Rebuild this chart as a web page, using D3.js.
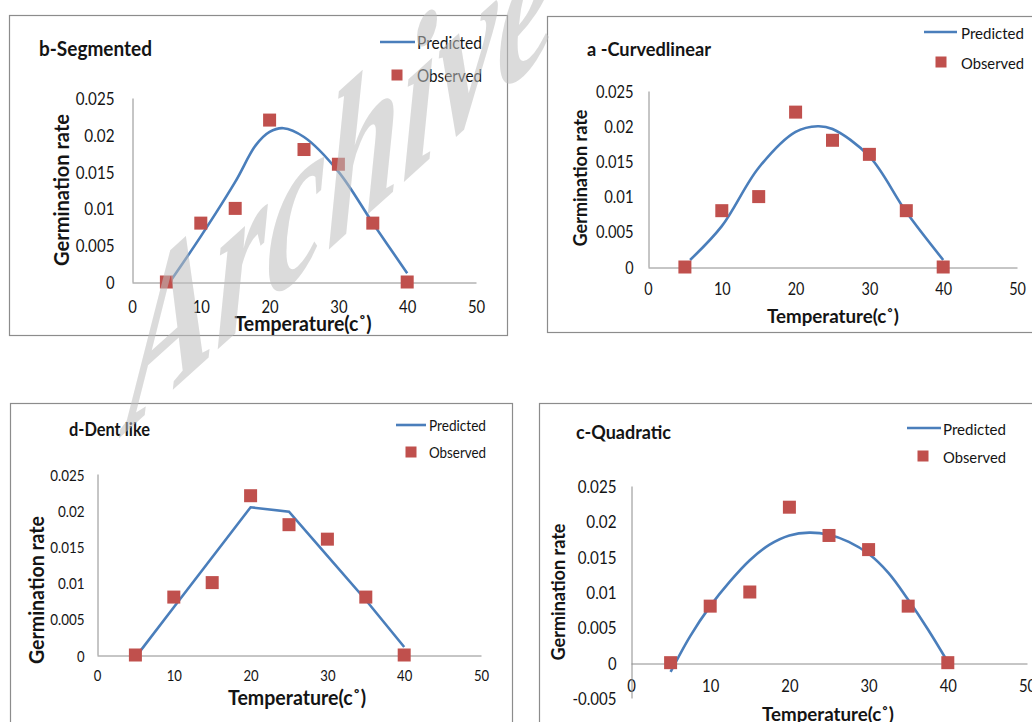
<!DOCTYPE html>
<html>
<head>
<meta charset="utf-8">
<script src="https://cdn.jsdelivr.net/npm/d3@7.9.0/dist/d3.min.js"></script>
<style>
  html, body { margin: 0; padding: 0; background: #fff; }
  svg { display: block; font-family: Lato, "Open Sans", sans-serif; }
</style>
</head>
<body>
<svg id="chart" width="1032" height="722"></svg>
<script>
// observed germination rate, same in every panel
const temps = [5, 10, 15, 20, 25, 30, 35, 40];
const observed = [0, 0.008, 0.010, 0.022, 0.018, 0.016, 0.008, 0];

// predicted curves
const segmentedT = [5.5, 10, 15, 18, 20, 22, 25, 30, 35, 40];
const segmentedRate = [0, 0.0062, 0.0136, 0.0186, 0.0204, 0.0209, 0.0197, 0.0150, 0.0080, 0.0012];

const curvedT = [5.7, 10, 15, 20, 23, 25, 30, 35, 40];
const curvedRate = [0.001, 0.0058, 0.0141, 0.0192, 0.0200, 0.0196, 0.0157, 0.0078, 0.001];

const dentT = [5.6, 10, 20, 25, 30, 35, 40];
const dentRate = [0.0005, 0.0066, 0.0204, 0.0198, 0.0137, 0.0076, 0.0011];

const quadT = [5, 7.5, 10, 12.5, 15, 17.5, 20, 22.5, 25, 27.5, 30, 32.5, 35, 37.5, 40];
const quadRate = [-0.0013, 0.0038, 0.0080, 0.0115, 0.0145, 0.0167, 0.0180, 0.0184, 0.0181, 0.0171, 0.0154, 0.0127, 0.0089, 0.0047, 0.0001];

const xTicks = [0, 10, 20, 30, 40, 50];
const yTicks = [0, 0.005, 0.01, 0.015, 0.02, 0.025];
const quadYTicks = [-0.005, 0, 0.005, 0.01, 0.015, 0.02, 0.025];

const blue = '#4a7ebb';
const red = '#c0504d';
const axisGrey = '#8c8c8c';
const ink = '#141414';

const svg = d3.select('#chart');

// layout of the four chart boxes (pixel positions taken from the original figure)
const panels = [
  {
    title: 'b-Segmented', t: segmentedT, rate: segmentedRate, curve: d3.curveCatmullRom,
    frame: [9, 15, 498, 320], xr: [132, 476], yr: [282, 98], yDomain: [0, 0.025], yTicks: yTicks,
    tickFont: 17, xOff: 24, yPad: 18,
    titlePos: [39, 48, 113, 20], legend: [380, 415, 397, 417, 42, 75, 65, 17],
    xLabel: [303, 323, 137, 20], yLabel: [60, 190, 152, 21]
  },
  {
    title: 'a -Curvedlinear', t: curvedT, rate: curvedRate, curve: d3.curveCatmullRom,
    frame: [547, 16, 500, 316], xr: [648, 1017], yr: [267, 91], yDomain: [0, 0.025], yTicks: yTicks,
    tickFont: 16.5, xOff: 21, yPad: 15,
    titlePos: [587, 48, 124, 19.5], legend: [924, 957, 941, 961, 32, 62, 63, 16],
    xLabel: [833, 315, 132, 19.5], yLabel: [579, 178, 137, 19]
  },
  {
    title: 'd-Dent like', t: dentT, rate: dentRate, curve: d3.curveLinear,
    frame: [10, 403, 502, 330], xr: [97, 481], yr: [655, 474], yDomain: [0, 0.025], yTicks: yTicks,
    tickFont: 15, xOff: 19, yPad: 13,
    titlePos: [69, 429, 81, 18], legend: [396, 426, 411, 429, 425, 452, 57, 14.5],
    xLabel: [297, 697, 138, 20], yLabel: [36, 590, 148, 20.5]
  },
  {
    title: 'c-Quadratic', t: quadT, rate: quadRate, curve: d3.curveCatmullRom,
    frame: [539, 403, 510, 330], xr: [631, 1027], yr: [698, 486], yDomain: [-0.005, 0.025], yTicks: quadYTicks,
    tickFont: 17, xOff: 22, yPad: 15,
    titlePos: [576, 431, 95, 19.5], legend: [907, 941, 923, 943, 428, 456, 63, 16],
    xLabel: [828, 713, 132, 19.5], yLabel: [557, 592, 137, 19]
  }
];

function fmt(v) {
  if (v === 0) return '0';
  return String(+v.toFixed(3));
}

// rough Calibri advance widths for number labels, in em
function numWidth(str, size) {
  let w = 0;
  for (const ch of str) w += ch === '.' ? 0.252 : ch === '-' ? 0.306 : 0.507;
  return w * size;
}

panels.forEach(p => {
  const g = svg.append('g');
  const [fx, fy, fw, fh] = p.frame;
  g.append('rect')
    .attr('x', fx + 0.5).attr('y', fy + 0.5)
    .attr('width', fw).attr('height', fh)
    .attr('fill', '#fff').attr('stroke', axisGrey).attr('stroke-width', 1.2);

  const x = d3.scaleLinear().domain([0, 50]).range(p.xr);
  const y = d3.scaleLinear().domain(p.yDomain).range(p.yr);

  // x axis sits on y = 0
  const xAxis = g.append('g')
    .attr('transform', `translate(0,${Math.round(y(0)) + 0.5})`)
    .call(d3.axisBottom(x).tickValues(xTicks).tickSize(0).tickFormat(d3.format('d')));
  const yAxis = g.append('g')
    .attr('transform', `translate(${Math.round(p.xr[0]) + 0.5},0)`)
    .call(d3.axisLeft(y).tickValues(p.yTicks).tickSize(0).tickPadding(p.yPad).tickFormat(fmt));

  [xAxis, yAxis].forEach(a => {
    a.select('.domain').attr('stroke', axisGrey).attr('stroke-width', 1);
    a.selectAll('text')
      .attr('font-size', p.tickFont).attr('fill', ink)
      .attr('font-family', 'Lato, sans-serif')
      .attr('dy', null).attr('dominant-baseline', 'central')
      .attr('lengthAdjust', 'spacingAndGlyphs')
      .attr('textLength', function () { return numWidth(this.textContent, p.tickFont); });
  });
  xAxis.selectAll('text').attr('y', p.xOff);

  // predicted
  const line = d3.line().curve(p.curve)
    .x((d, i) => x(p.t[i]))
    .y((d, i) => y(p.rate[i]));
  g.append('path')
    .datum(p.rate)
    .attr('d', line)
    .attr('fill', 'none')
    .attr('stroke', blue)
    .attr('stroke-width', 2.6);

  // observed
  const s = 13;
  g.selectAll('rect.obs')
    .data(observed)
    .join('rect')
    .attr('class', 'obs')
    .attr('x', (d, i) => x(temps[i]) - s / 2)
    .attr('y', d => y(d) - s / 2)
    .attr('width', s).attr('height', s)
    .attr('fill', red);

  // title
  const [tx, ty, tw, ts] = p.titlePos;
  g.append('text')
    .attr('x', tx).attr('y', ty)
    .attr('dominant-baseline', 'central')
    .attr('font-weight', 'bold').attr('font-size', ts)
    .attr('textLength', tw).attr('lengthAdjust', 'spacingAndGlyphs')
    .attr('fill', ink)
    .text(p.title);

  // legend
  const [lx0, lx1, mx, ltx, ly1, ly2, lw, lfs] = p.legend;
  g.append('line')
    .attr('x1', lx0).attr('x2', lx1).attr('y1', ly1).attr('y2', ly1)
    .attr('stroke', blue).attr('stroke-width', 2.6);
  const ms = 11;
  g.append('rect')
    .attr('x', mx - ms / 2).attr('y', ly2 - ms / 2)
    .attr('width', ms).attr('height', ms).attr('fill', red);
  [['Predicted', ly1], ['Observed', ly2]].forEach(([label, ly]) => {
    g.append('text')
      .attr('x', ltx).attr('y', ly)
      .attr('dominant-baseline', 'central')
      .attr('font-size', lfs).attr('fill', ink)
      .attr('textLength', lw).attr('lengthAdjust', 'spacingAndGlyphs')
      .text(label);
  });

  // axis titles
  const [xlx, xly, xlw, xls] = p.xLabel;
  g.append('text')
    .attr('x', xlx).attr('y', xly)
    .attr('text-anchor', 'middle').attr('dominant-baseline', 'central')
    .attr('font-weight', 'bold').attr('font-size', xls).attr('fill', ink)
    .attr('textLength', xlw).attr('lengthAdjust', 'spacingAndGlyphs')
    .text('Temperature(c˚)');
  const [ylx, yly, ylw, yls] = p.yLabel;
  g.append('text')
    .attr('transform', `translate(${ylx},${yly}) rotate(-90)`)
    .attr('text-anchor', 'middle').attr('dominant-baseline', 'central')
    .attr('font-weight', 'bold').attr('font-size', yls).attr('fill', ink)
    .attr('textLength', ylw).attr('lengthAdjust', 'spacingAndGlyphs')
    .text('Germination rate');
});

// watermark laid over the top-left panel (sheared, not rotated)
svg.append('text')
  .attr('transform', 'translate(126,432) skewY(-42)')
  .attr('font-family', '"Liberation Serif", "DejaVu Serif", serif')
  .attr('font-style', 'italic').attr('font-weight', 'bold')
  .attr('font-size', 215)
  .attr('textLength', 430).attr('lengthAdjust', 'spacingAndGlyphs')
  .attr('fill', '#bdbdbd').attr('fill-opacity', 0.55)
  .text('Archive');
</script>
</body>
</html>
